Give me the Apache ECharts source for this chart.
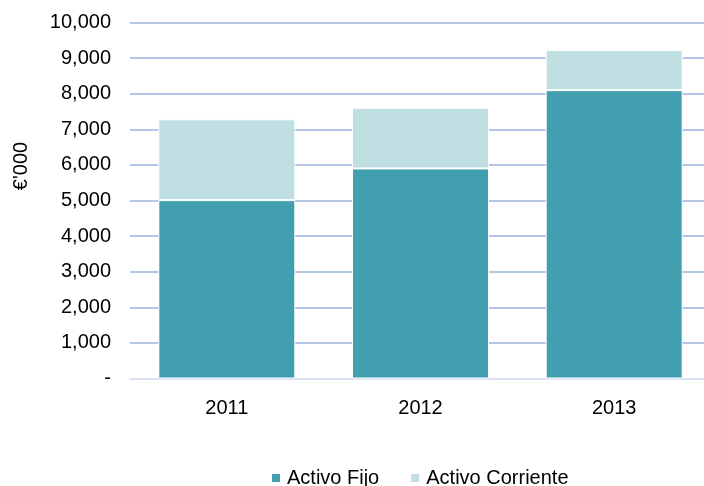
<!DOCTYPE html>
<html>
<head>
<meta charset="utf-8">
<style>
  html, body { margin: 0; padding: 0; background: #fff; }
  #chart { width: 704px; height: 486px; }
</style>
<script src="https://cdn.jsdelivr.net/npm/echarts@6/dist/echarts.min.js"></script>
</head>
<body>
<div id="chart"></div>
<script>
// datos
var years = ['2011', '2012', '2013'];
var activoFijo = [5010, 5900, 8100];
var activoCorriente = [2270, 1705, 1125];
var seriesNames = ['Activo Fijo', 'Activo Corriente'];

var myChart = echarts.init(document.getElementById('chart'));

var fmt = function (v) {
  if (v === 0) return '-';
  return v.toLocaleString('en-US');
};

var option = {
  animation: false,
  textStyle: { fontFamily: 'Liberation Sans, Arial, sans-serif' },
  grid: {
    left: 130,
    top: 22.5,
    width: 581,
    height: 356,
    outerBoundsMode: 'none'
  },
  // titulo del eje y
  graphic: [{
    type: 'text',
    x: 21,
    y: 166,
    rotation: Math.PI / 2,
    style: {
      text: "€'000",
      fill: '#000',
      font: '20px Liberation Sans, Arial, sans-serif',
      align: 'center',
      verticalAlign: 'middle'
    }
  }],
  legend: {
    top: 463,
    left: 265,
    itemWidth: 10,
    itemHeight: 10,
    itemGap: 30,
    icon: 'rect',
    textStyle: { fontSize: 20, color: '#000', padding: [0, 0, 0, 1] },
    data: seriesNames
  },
  xAxis: {
    type: 'category',
    data: years,
    axisTick: { show: false },
    axisLine: { lineStyle: { color: '#D9E1F2', width: 2 } },
    axisLabel: { color: '#000', fontSize: 20, margin: 20 }
  },
  yAxis: {
    type: 'value',
    min: 0,
    max: 10000,
    interval: 1000,
    axisLine: { show: false },
    axisTick: { show: false },
    axisLabel: { color: '#000', fontSize: 20, margin: 19, formatter: fmt },
    splitLine: { lineStyle: { color: '#B4C7E7', width: 2 } }
  },
  series: [
    {
      name: seriesNames[0],
      type: 'bar',
      stack: 'total',
      barWidth: 137,
      data: activoFijo,
      itemStyle: { color: '#419FAF', borderColor: '#fff', borderWidth: 1 }
    },
    {
      name: seriesNames[1],
      type: 'bar',
      stack: 'total',
      data: activoCorriente,
      itemStyle: { color: '#BFDFE3', borderColor: '#fff', borderWidth: 1 }
    }
  ]
};

myChart.setOption(option);
</script>
</body>
</html>
